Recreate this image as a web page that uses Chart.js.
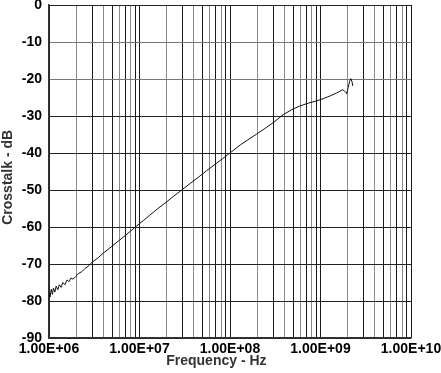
<!DOCTYPE html>
<html>
<head>
<meta charset="utf-8">
<script src="https://cdn.jsdelivr.net/npm/chart.js@4/dist/chart.umd.min.js"></script>
<style>
  html, body { margin: 0; padding: 0; background: #fff; }
</style>
</head>
<body>
<canvas id="chartCrosstalk" width="441" height="373"></canvas>
<script>
var freqHz = [
  1.00e6, 1.03e6, 1.06e6, 1.09e6, 1.12e6, 1.16e6, 1.20e6, 1.25e6, 1.30e6, 1.36e6,
  1.42e6, 1.50e6, 1.58e6, 1.66e6, 1.75e6, 1.85e6, 1.97e6, 2.10e6, 2.30e6, 2.50e6,
  2.75e6, 3.00e6, 3.50e6, 4.00e6, 4.70e6, 5.50e6, 6.50e6, 7.70e6, 9.10e6, 1.10e7,
  1.30e7, 1.60e7, 2.00e7, 2.40e7, 2.93e7, 3.60e7, 4.50e7, 5.50e7, 6.80e7, 8.30e7,
  1.00e8, 1.30e8, 1.63e8, 1.97e8, 2.45e8, 3.00e8, 3.90e8, 4.80e8, 5.90e8, 7.40e8,
  9.10e8, 1.10e9, 1.30e9, 1.50e9, 1.64e9, 1.75e9, 1.83e9, 1.90e9, 1.95e9, 2.02e9,
  2.10e9, 2.16e9, 2.22e9, 2.28e9
];
var crosstalkDb = [
  -77.6, -78.9, -76.8, -78.2, -76.5, -77.6, -76.0, -77.0, -75.6, -76.3,
  -75.0, -75.6, -74.3, -74.8, -73.8, -74.1, -73.4, -72.6, -72.1, -71.2,
  -70.5, -69.5, -68.3, -67.0, -65.7, -64.3, -62.9, -61.4, -59.9, -58.3,
  -56.8, -55.0, -53.2, -51.6, -50.0, -48.3, -46.5, -44.8, -43.1, -41.5,
  -40.0, -37.8, -36.2, -34.9, -33.3, -31.8, -29.6, -28.3, -27.3, -26.5,
  -25.9, -25.2, -24.5, -23.8, -23.3, -22.9, -23.2, -23.6, -24.0, -22.3,
  -20.6, -19.9, -20.6, -21.9
];

var decades = [1e6, 1e7, 1e8, 1e9, 1e10];
var decadeLabels = ['1.00E+06', '1.00E+07', '1.00E+08', '1.00E+09', '1.00E+10'];
var minorSteps = [2, 3, 4, 5, 6, 7, 8, 9];
var yTicks = [0, -10, -20, -30, -40, -50, -60, -70, -80, -90];

var FONT = '"Liberation Sans", Arial, sans-serif';

var points = freqHz.map(function (f, i) { return { x: f, y: crosstalkDb[i] }; });

// all grid positions on the log axis: decades plus 2..9 in between
var xGrid = [];
decades.forEach(function (d, i) {
  xGrid.push(d);
  if (i < decades.length - 1) minorSteps.forEach(function (m) { xGrid.push(d * m); });
});

var ctx = document.getElementById('chartCrosstalk');

var chartCrosstalk = new Chart(ctx, {
  type: 'line',
  data: {
    datasets: [{
      data: points,
      borderColor: '#111',
      borderWidth: 1,
      pointRadius: 0,
      tension: 0,
      fill: false
    }]
  },
  options: {
    responsive: false,
    animation: false,
    layout: { padding: { top: 5, right: 30, left: 0, bottom: 0 } },
    plugins: { legend: { display: false }, tooltip: { enabled: false } },
    scales: {
      x: {
        type: 'logarithmic',
        min: 1e6,
        max: 1e10,
        afterBuildTicks: function (scale) {
          scale.ticks = xGrid.map(function (v) { return { value: v }; });
        },
        afterFit: function (scale) {
          scale.height = 35;
          scale.paddingLeft = 0;
          scale.paddingRight = 0;
        },
        ticks: {
          autoSkip: false,
          maxRotation: 0,
          padding: 3,
          color: '#000',
          font: { family: FONT, size: 14, weight: 'bold' },
          callback: function (value) {
            var i = decades.indexOf(value);
            return i >= 0 ? decadeLabels[i] : '';
          }
        },
        grid: {
          drawTicks: false,
          lineWidth: 1,
          color: function (c) {
            if (!c.tick) return '#222';
            var v = c.tick.value;
            var m = Math.round(v / Math.pow(10, Math.floor(Math.log10(v) + 1e-9)));
            return (m % 2 === 0) ? '#8a8a8a' : '#1a1a1a';
          }
        },
        border: { color: '#333', width: 1.5 },
        title: {
          display: true,
          text: 'Frequency - Hz       ',
          color: '#333',
          font: { family: FONT, size: 14, weight: 'bold' },
          padding: { top: 0, bottom: 3 }
        }
      },
      y: {
        min: -90,
        max: 0,
        afterBuildTicks: function (scale) {
          scale.ticks = yTicks.map(function (v) { return { value: v }; });
        },
        afterFit: function (scale) {
          scale.width = 49;
          scale.paddingTop = 0;
          scale.paddingBottom = 0;
        },
        ticks: {
          padding: 7,
          color: '#000',
          font: { family: FONT, size: 14, weight: 'bold' }
        },
        grid: {
          drawTicks: false,
          lineWidth: 1,
          color: function (c) {
            if (!c.tick) return '#222';
            return (c.tick.value === -10 || c.tick.value === -20) ? '#777' : '#222';
          }
        },
        border: { color: '#333', width: 1.5 },
        title: {
          display: true,
          text: 'Crosstalk - dB   ',
          color: '#333',
          font: { family: FONT, size: 14, weight: 'bold' },
          padding: { top: 0, bottom: 0 }
        }
      }
    }
  }
});
</script>
</body>
</html>
